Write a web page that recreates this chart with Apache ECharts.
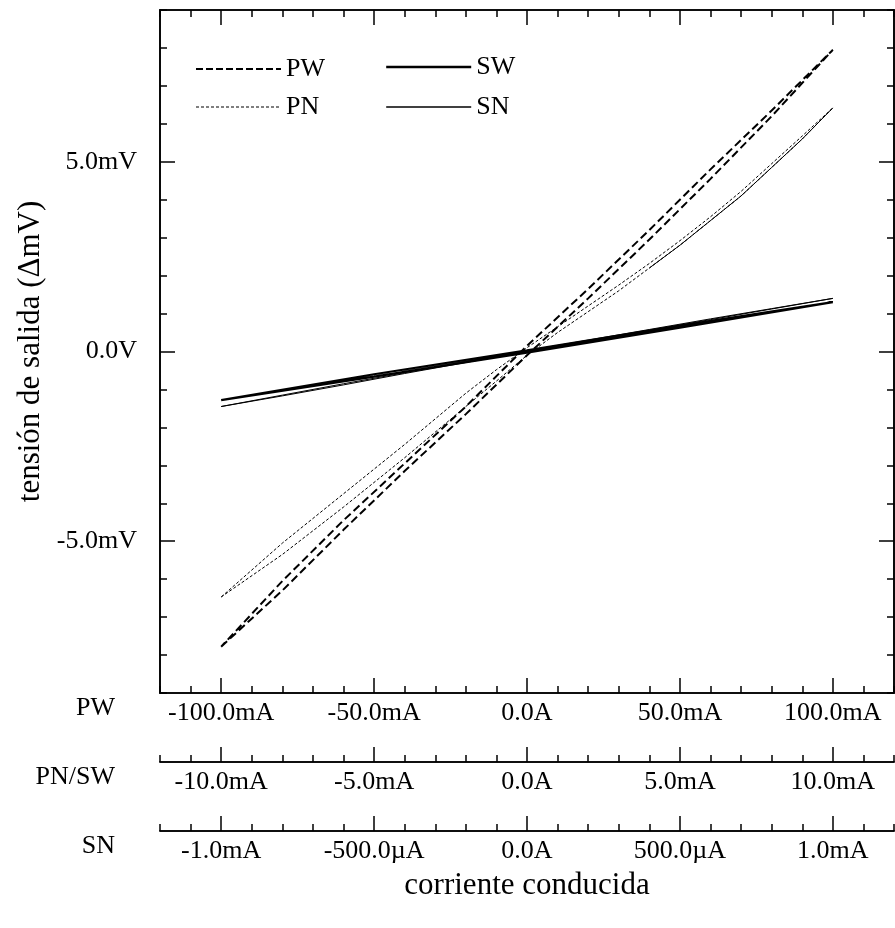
<!DOCTYPE html>
<html>
<head>
<meta charset="utf-8">
<script src="https://cdn.jsdelivr.net/npm/echarts@6/dist/echarts.min.js"></script>
<style>
html,body{margin:0;padding:0;background:#fff;}
#chart{width:895px;height:928px;}
</style>
</head>
<body>
<div id="chart"></div>
<script>
// ---- data (x in each axis' own units, y in mV) ----
// PW: current in mA (axis -120..120)
const pwCurrent = [-100,-80,-60,-40,-20,0,20,40,60,80,100, 80,60,40,20,0,-20,-40,-60,-80,-100];
const pwVoltage = [-7.78,-6.3,-4.7,-3.15,-1.65,-0.1,1.4,2.95,4.55,6.2,7.95, 6.35,4.8,3.2,1.65,0.15,-1.45,-2.95,-4.45,-6.05,-7.78];
// PN: current in mA (axis -12..12)
const pnCurrent = [-10,-8,-6,-4,-2,-1,0,1,2,3,4,5,6,7,8,9,10, 9,8,7,6,5,4,3,2,1,0,-1,-2,-4,-6,-8,-10];
const pnVoltage = [-6.47,-5.35,-4.1,-2.8,-1.45,-0.78,-0.1,0.5,1.05,1.6,2.2,2.8,3.45,4.1,4.85,5.6,6.42, 5.68,4.95,4.22,3.55,2.92,2.32,1.75,1.2,0.65,0.1,-0.48,-1.1,-2.45,-3.75,-5.05,-6.47];
// PN return segment that prints as a continuous line in the original
const pnSolidCurrent = [4,5,6,7,8,9,10];
const pnSolidVoltage = [2.2,2.8,3.45,4.1,4.85,5.6,6.42];
// SW: current in mA (axis -12..12)
const swCurrent = [-10,-5,0,5,10, 5,0,-5,-10];
const swVoltage = [-1.28,-0.66,-0.03,0.63,1.3, 0.68,0.03,-0.6,-1.28];
// SN: current in µA (axis -1200..1200)
const snCurrent = [-1000,-800,-600,-400,-200,0,200,400,600,800,1000, 800,600,400,200,0,-200,-400,-600,-800,-1000];
const snVoltage = [-1.45,-1.17,-0.88,-0.58,-0.29,0,0.28,0.56,0.84,1.12,1.4, 1.13,0.86,0.58,0.3,0.02,-0.27,-0.56,-0.85,-1.15,-1.45];

// ---- ticks ----
const pwTicks = [-100,-50,0,50,100];
const pwTickLabels = ['-100.0mA','-50.0mA','0.0A','50.0mA','100.0mA'];
const pnswTicks = [-10,-5,0,5,10];
const pnswTickLabels = ['-10.0mA','-5.0mA','0.0A','5.0mA','10.0mA'];
const snTicks = [-1000,-500,0,500,1000];
const snTickLabels = ['-1.0mA','-500.0µA','0.0A','500.0µA','1.0mA'];
const yTicks = [-5,0,5];
const yTickLabels = ['-5.0mV','0.0V','5.0mV'];

const FONT = 'Liberation Serif';
const FS = 26;
const BLACK = '#000';

function zip(xs, ys){ return xs.map((x,i)=>[x, ys[i]]); }
function labelMap(vals, labels){ return v => { const i = vals.findIndex(t => Math.abs(t - v) < 1e-9); return i >= 0 ? labels[i] : ''; }; }

const lineAx = {show:true, onZero:false, lineStyle:{color:BLACK, width:1.6}};
const tickMajor = {show:true, inside:true, length:15, lineStyle:{color:BLACK, width:1.5}};
const tickMinor = {show:true, inside:true, length:7, lineStyle:{color:BLACK, width:1.5}};
const txt = {fontFamily:FONT, fontSize:FS, color:BLACK};
const titleTxt = {fontFamily:FONT, fontSize:31, color:BLACK};

function bottomMajor(min, max, ticks, labels, offset, name){
  return {
    type:'value', gridIndex:0, position:'bottom', offset:offset, min:min, max:max,
    axisLine:lineAx, splitLine:{show:false},
    axisTick:Object.assign({customValues:ticks}, tickMajor),
    axisLabel:Object.assign({customValues:ticks, margin:7, formatter:labelMap(ticks, labels)}, txt),
    name:name, nameLocation:'start', nameGap:45,
    nameTextStyle:Object.assign({verticalAlign:'top', align:'right', padding:[2,0,0,0]}, txt)
  };
}
function bottomMinor(min, max, interval, offset, extra){
  return Object.assign({
    type:'value', gridIndex:0, position:'bottom', offset:offset, min:min, max:max, interval:interval,
    axisLine:lineAx, splitLine:{show:false}, axisTick:tickMinor, axisLabel:{show:false}
  }, extra || {});
}

const option = {
  animation:false,
  backgroundColor:'#fff',
  textStyle:{fontFamily:FONT},
  grid:{left:160, right:1, top:10, bottom:235, containLabel:false},
  legend:[
    {data:[{name:'PW', lineStyle:{color:BLACK, width:2, type:[7,3]}},
           {name:'PN', lineStyle:{color:BLACK, width:1.2, type:[3,2]}}],
     orient:'vertical', left:190, top:51, itemWidth:85, itemHeight:26, itemGap:12,
     textStyle:txt, itemStyle:{opacity:0}},
    {data:[{name:'SW', lineStyle:{color:BLACK, width:2.4, type:'solid'}},
           {name:'SN', lineStyle:{color:BLACK, width:1.3, type:'solid'}}],
     orient:'vertical', left:380, top:49, itemWidth:85, itemHeight:26, itemGap:14,
     textStyle:txt, itemStyle:{opacity:0}}
  ],
  xAxis:[
    bottomMajor(-120,120,pwTicks,pwTickLabels,0,'PW'),
    bottomMinor(-120,120,10,0),
    bottomMajor(-12,12,pnswTicks,pnswTickLabels,69,'PN/SW'),
    bottomMinor(-12,12,1,69),
    bottomMajor(-1200,1200,snTicks,snTickLabels,138,'SN'),
    bottomMinor(-1200,1200,100,138,{
      name:'corriente conducida', nameLocation:'middle', nameGap:39,
      nameTextStyle:Object.assign({verticalAlign:'top'}, titleTxt)
    }),
    {type:'value', position:'top', min:-120, max:120, axisLine:lineAx, splitLine:{show:false},
     axisTick:Object.assign({customValues:pwTicks}, tickMajor), axisLabel:{show:false}},
    {type:'value', position:'top', min:-120, max:120, interval:10, axisLine:lineAx, splitLine:{show:false},
     axisTick:tickMinor, axisLabel:{show:false}}
  ],
  yAxis:[
    {type:'value', position:'left', min:-9, max:9, axisLine:lineAx, splitLine:{show:false},
     axisTick:Object.assign({customValues:yTicks}, tickMajor),
     axisLabel:Object.assign({customValues:yTicks, margin:23, formatter:labelMap(yTicks, yTickLabels)}, txt),
     name:'tensión de salida (ΔmV)', nameLocation:'middle', nameGap:112,
     nameTextStyle:titleTxt},
    {type:'value', position:'left', min:-9, max:9, interval:1, axisLine:lineAx, splitLine:{show:false},
     axisTick:tickMinor, axisLabel:{show:false}},
    {type:'value', position:'right', min:-9, max:9, axisLine:lineAx, splitLine:{show:false},
     axisTick:Object.assign({customValues:yTicks}, tickMajor), axisLabel:{show:false}},
    {type:'value', position:'right', min:-9, max:9, interval:1, axisLine:lineAx, splitLine:{show:false},
     axisTick:tickMinor, axisLabel:{show:false}}
  ],
  series:[
    {name:'PW', type:'line', xAxisIndex:0, yAxisIndex:0, data:zip(pwCurrent,pwVoltage),
     symbol:'none', lineStyle:{color:BLACK, width:2, type:[8,4]}, itemStyle:{color:BLACK}, z:3},
    {name:'SW', type:'line', xAxisIndex:2, yAxisIndex:0, data:zip(swCurrent,swVoltage),
     symbol:'none', lineStyle:{color:BLACK, width:2.2, type:'solid'}, itemStyle:{color:BLACK}, z:3},
    {name:'PN', type:'line', xAxisIndex:2, yAxisIndex:0, data:zip(pnCurrent,pnVoltage),
     symbol:'none', lineStyle:{color:BLACK, width:1, type:[3,2]}, itemStyle:{color:BLACK}, z:3},
    {name:'PN-return', type:'line', xAxisIndex:2, yAxisIndex:0, data:zip(pnSolidCurrent,pnSolidVoltage),
     symbol:'none', lineStyle:{color:BLACK, width:1, type:'solid'}, itemStyle:{color:BLACK}, z:3},
    {name:'SN', type:'line', xAxisIndex:4, yAxisIndex:0, data:zip(snCurrent,snVoltage),
     symbol:'none', lineStyle:{color:BLACK, width:1, type:'solid'}, itemStyle:{color:BLACK}, z:3}
  ]
};

const chart = echarts.init(document.getElementById('chart'), null, {renderer:'canvas'});
chart.setOption(option);
</script>
</body>
</html>
